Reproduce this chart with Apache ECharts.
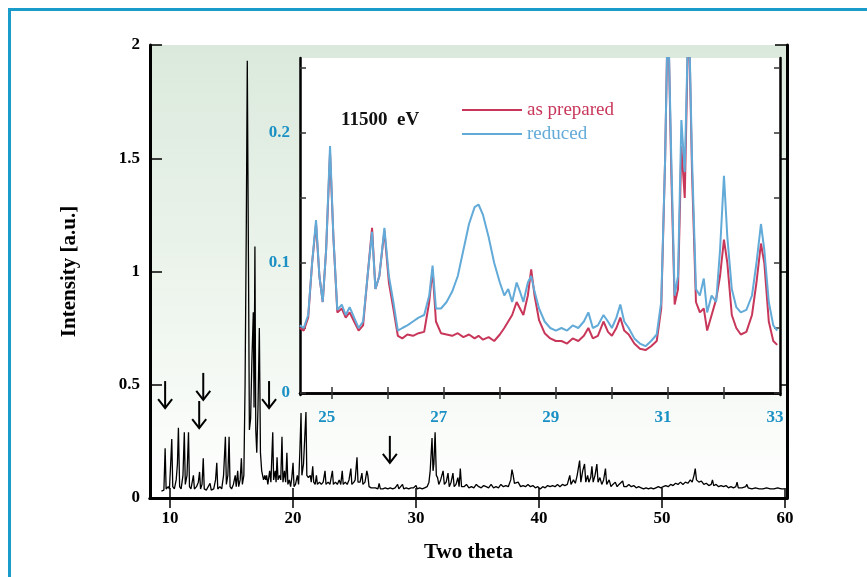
<!DOCTYPE html>
<html>
<head>
<meta charset="utf-8">
<script src="https://cdn.jsdelivr.net/npm/echarts@6/dist/echarts.min.js"></script>
<style>html,body{margin:0;padding:0;background:#fff}#chart{width:867px;height:577px}</style>
</head>
<body>
<div id="chart"></div>
<script>
// ---- Main XRD pattern: [two theta, intensity] ----
const mainPattern = [
[9.3,0.03],[9.5,0.035],[9.6,0.22],[9.68,0.04],[9.85,0.05],[9.95,0.04],[10.05,0.15],[10.14,0.26],[10.22,0.05],[10.35,0.04],
[10.5,0.08],[10.6,0.15],[10.68,0.31],[10.78,0.05],[10.9,0.04],[11.05,0.1],[11.16,0.29],[11.24,0.06],[11.38,0.1],[11.5,0.29],
[11.58,0.05],[11.7,0.04],[11.9,0.1],[11.98,0.04],[12.15,0.05],[12.3,0.07],[12.4,0.115],[12.48,0.04],[12.6,0.06],[12.7,0.175],
[12.78,0.04],[12.95,0.035],[13.1,0.04],[13.25,0.065],[13.35,0.035],[13.55,0.04],[13.7,0.08],[13.8,0.155],[13.88,0.04],[14.05,0.05],
[14.2,0.04],[14.35,0.1],[14.5,0.27],[14.58,0.06],[14.7,0.1],[14.8,0.27],[14.88,0.05],[15.0,0.04],[15.15,0.06],[15.3,0.1],
[15.38,0.05],[15.5,0.12],[15.58,0.05],[15.7,0.08],[15.8,0.175],[15.88,0.06],[16.0,0.1],[16.1,0.5],[16.2,1.2],[16.28,1.93],
[16.33,1.45],[16.38,1.0],[16.45,0.3],[16.55,0.35],[16.65,0.6],[16.77,0.82],[16.83,0.4],[16.9,1.11],[16.97,0.3],[17.05,0.2],
[17.15,0.4],[17.26,0.75],[17.35,0.2],[17.45,0.12],[17.6,0.08],[17.7,0.1],[17.78,0.08],[17.85,0.1],[17.95,0.06],[18.1,0.12],
[18.2,0.07],[18.35,0.29],[18.42,0.08],[18.55,0.12],[18.62,0.07],[18.7,0.18],[18.78,0.08],[18.9,0.1],[19.0,0.08],[19.1,0.27],
[19.18,0.07],[19.3,0.12],[19.4,0.07],[19.5,0.2],[19.58,0.06],[19.7,0.08],[19.8,0.05],[19.9,0.09],[20.0,0.155],[20.08,0.05],
[20.2,0.06],[20.35,0.1],[20.45,0.06],[20.55,0.2],[20.65,0.375],[20.72,0.1],[20.85,0.15],[21.05,0.38],[21.12,0.1],[21.25,0.09],
[21.4,0.1],[21.48,0.07],[21.6,0.14],[21.68,0.07],[21.8,0.06],[21.9,0.1],[21.98,0.06],[22.15,0.07],[22.3,0.06],[22.45,0.07],
[22.6,0.12],[22.68,0.06],[22.85,0.07],[23.0,0.06],[23.2,0.12],[23.28,0.06],[23.45,0.07],[23.6,0.06],[23.75,0.08],[23.88,0.06],
[24.0,0.12],[24.08,0.06],[24.25,0.07],[24.4,0.06],[24.55,0.08],[24.7,0.13],[24.78,0.06],[24.95,0.07],[25.05,0.08],[25.2,0.18],
[25.28,0.07],[25.45,0.07],[25.6,0.11],[25.68,0.06],[25.85,0.07],[26.0,0.12],[26.08,0.1],[26.18,0.05],[26.35,0.045],[26.5,0.04],
[26.7,0.045],[26.9,0.04],[27.0,0.065],[27.1,0.04],[27.3,0.04],[27.5,0.045],[27.7,0.04],[27.9,0.045],[28.1,0.04],[28.3,0.045],
[28.5,0.06],[28.6,0.04],[28.75,0.045],[28.9,0.06],[29.0,0.04],[29.2,0.045],[29.4,0.04],[29.6,0.045],[29.8,0.045],[30.0,0.055],
[30.1,0.04],[30.3,0.045],[30.5,0.04],[30.7,0.045],[30.9,0.05],[31.05,0.07],[31.15,0.12],[31.3,0.265],[31.38,0.12],[31.45,0.15],
[31.55,0.29],[31.65,0.1],[31.75,0.09],[31.85,0.06],[32.0,0.08],[32.2,0.12],[32.3,0.06],[32.45,0.07],[32.6,0.11],[32.7,0.05],
[32.85,0.07],[33.0,0.11],[33.1,0.05],[33.25,0.06],[33.4,0.09],[33.5,0.05],[33.6,0.13],[33.7,0.05],[33.9,0.05],[34.1,0.06],
[34.3,0.045],[34.5,0.05],[34.7,0.045],[34.9,0.06],[35.1,0.05],[35.3,0.045],[35.5,0.055],[35.7,0.05],[35.9,0.045],[36.1,0.06],
[36.3,0.045],[36.5,0.05],[36.7,0.045],[36.9,0.06],[37.1,0.05],[37.3,0.055],[37.5,0.05],[37.7,0.08],[37.8,0.125],[37.9,0.1],
[38.0,0.065],[38.15,0.06],[38.3,0.07],[38.5,0.05],[38.7,0.055],[38.9,0.05],[39.1,0.06],[39.3,0.05],[39.5,0.055],[39.7,0.045],
[39.9,0.05],[40.1,0.04],[40.3,0.05],[40.5,0.045],[40.7,0.055],[40.9,0.05],[41.1,0.055],[41.3,0.05],[41.5,0.06],[41.7,0.05],
[41.9,0.06],[42.1,0.055],[42.3,0.06],[42.5,0.1],[42.6,0.06],[42.8,0.08],[42.95,0.065],[43.1,0.1],[43.3,0.165],[43.4,0.07],
[43.55,0.12],[43.7,0.15],[43.8,0.07],[43.95,0.1],[44.05,0.07],[44.2,0.09],[44.3,0.14],[44.4,0.07],[44.55,0.1],[44.7,0.15],
[44.8,0.07],[44.95,0.09],[45.1,0.06],[45.25,0.08],[45.4,0.13],[45.5,0.06],[45.7,0.08],[45.85,0.05],[46.0,0.06],[46.2,0.07],
[46.35,0.05],[46.5,0.06],[46.8,0.075],[46.9,0.05],[47.1,0.05],[47.3,0.06],[47.5,0.05],[47.7,0.055],[47.9,0.045],[48.1,0.05],
[48.3,0.045],[48.5,0.04],[48.7,0.045],[48.9,0.04],[49.1,0.045],[49.3,0.04],[49.5,0.045],[49.7,0.05],[49.9,0.045],[50.1,0.05],
[50.3,0.055],[50.5,0.05],[50.7,0.06],[50.9,0.055],[51.1,0.065],[51.3,0.06],[51.5,0.07],[51.7,0.06],[51.9,0.07],[52.1,0.065],
[52.3,0.08],[52.45,0.07],[52.6,0.1],[52.7,0.13],[52.8,0.08],[53.0,0.07],[53.2,0.075],[53.4,0.06],[53.6,0.065],[53.8,0.055],
[54.0,0.06],[54.1,0.08],[54.2,0.055],[54.4,0.06],[54.6,0.05],[54.8,0.055],[55.0,0.05],[55.2,0.055],[55.4,0.045],[55.6,0.05],
[55.8,0.045],[56.0,0.05],[56.1,0.07],[56.2,0.045],[56.5,0.045],[56.8,0.05],[56.9,0.06],[57.0,0.045],[57.3,0.04],[57.6,0.045],
[57.9,0.04],[58.2,0.04],[58.5,0.045],[58.8,0.04],[59.1,0.04],[59.4,0.045],[59.7,0.04],[59.95,0.04]
];

// ---- Inset (11500 eV) ----
const insetTwoTheta = [24.43,24.5,24.58,24.65,24.72,24.78,24.84,24.9,24.97,25.03,25.1,25.18,25.25,25.32,25.4,25.48,25.56,25.64,25.72,25.78,
25.85,25.94,26.02,26.1,26.18,26.26,26.35,26.45,26.55,26.65,26.74,26.8,26.86,26.95,27.05,27.15,27.25,27.35,27.45,27.55,
27.62,27.7,27.8,27.9,28.0,28.08,28.15,28.22,28.3,28.36,28.42,28.5,28.56,28.62,28.7,28.8,28.9,29.0,29.1,29.2,
29.3,29.4,29.5,29.58,29.66,29.75,29.85,29.93,30.0,30.08,30.15,30.22,30.3,30.4,30.5,30.6,30.7,30.8,30.88,30.95,
31.0,31.06,31.12,31.18,31.24,31.3,31.37,31.43,31.5,31.57,31.64,31.7,31.78,31.86,31.93,32.0,32.06,32.14,32.22,32.3,
32.4,32.5,32.58,32.66,32.72,32.8,32.88,32.95];
const reduced = [0.052,0.05,0.06,0.1,0.133,0.09,0.07,0.11,0.19,0.12,0.064,0.068,0.06,0.066,0.058,0.05,0.055,0.09,0.124,0.08,
0.09,0.127,0.09,0.07,0.048,0.05,0.052,0.055,0.058,0.06,0.075,0.098,0.065,0.065,0.07,0.078,0.09,0.11,0.13,0.143,
0.145,0.137,0.12,0.1,0.085,0.075,0.08,0.07,0.085,0.078,0.07,0.085,0.09,0.078,0.065,0.055,0.05,0.048,0.05,0.048,
0.052,0.05,0.055,0.062,0.05,0.052,0.06,0.055,0.05,0.058,0.068,0.055,0.05,0.042,0.038,0.036,0.04,0.045,0.07,0.18,
0.3,0.18,0.075,0.09,0.21,0.17,0.3,0.18,0.08,0.075,0.088,0.062,0.075,0.07,0.11,0.167,0.12,0.08,0.066,0.062,
0.064,0.075,0.1,0.13,0.11,0.07,0.052,0.048];
const asPrepared = [0.05,0.048,0.058,0.1,0.13,0.09,0.07,0.11,0.185,0.12,0.062,0.065,0.058,0.062,0.055,0.048,0.052,0.09,0.127,0.08,
0.09,0.125,0.085,0.065,0.044,0.042,0.045,0.044,0.046,0.047,0.07,0.095,0.055,0.046,0.045,0.044,0.046,0.043,0.045,0.042,
0.044,0.041,0.043,0.04,0.045,0.05,0.055,0.06,0.07,0.065,0.06,0.075,0.095,0.075,0.056,0.046,0.042,0.04,0.04,0.038,
0.042,0.04,0.044,0.05,0.042,0.044,0.055,0.047,0.044,0.05,0.058,0.048,0.045,0.038,0.034,0.033,0.036,0.04,0.065,0.18,
0.3,0.17,0.068,0.08,0.19,0.15,0.3,0.17,0.07,0.062,0.065,0.048,0.06,0.072,0.09,0.118,0.1,0.06,0.05,0.045,
0.047,0.06,0.085,0.115,0.1,0.055,0.04,0.037];

// ---- Axis ticks / labels ----
const mainXTicks = [10, 20, 30, 40, 50, 60];
const insetXTicks = [25, 26, 27, 28, 29, 30, 31, 32];
const insetXLabels = [25, 27, 29, 31, 33];
const insetYTicks = [0, 0.05, 0.1, 0.15, 0.2, 0.25];
const insetYLabels = [0, 0.1, 0.2];

// ---- Arrows marking reflections: [two theta, arrow tip intensity] ----
const arrowMarks = [[9.6, 0.397], [12.7, 0.433], [12.37, 0.309], [18.05, 0.397], [27.87, 0.155]];

const SERIF = '"Liberation Serif", "DejaVu Serif", serif';
const BLUE_TXT = '#1a90c4';
const RED = '#c8375a';
const BLUE = '#62aad8';

const chart = echarts.init(document.getElementById('chart'), null, {renderer: 'canvas'});
const boldLbl = {fontFamily: SERIF, fontWeight: 'bold', fontSize: 17, color: '#000'};

const option = {
  animation: false,
  backgroundColor: '#fff',
  title: {
    text: '11500  eV', left: 336, top: 106,
    textStyle: {fontFamily: SERIF, fontWeight: 'bold', fontSize: 19, color: '#111'}
  },
  legend: {
    orient: 'vertical', left: 462, top: 100, padding: 0, itemGap: 4,
    icon: 'rect', itemWidth: 60, itemHeight: 2,
    textStyle: {fontFamily: SERIF, fontSize: 19, lineHeight: 20},
    data: [
      {name: 'as prepared', textStyle: {color: RED}},
      {name: 'reduced', textStyle: {color: BLUE}}
    ]
  },
  graphic: [{
    type: 'rect', z: 100,
    shape: {x: 9.5, y: 9.5, width: 900, height: 620},
    style: {fill: 'none', stroke: '#1a9ccb', lineWidth: 3}
  }],
  grid: [
    {left: 150, top: 45, width: 637, height: 453, show: true, borderWidth: 0,
     backgroundColor: {type: 'linear', x: 0, y: 0, x2: 0, y2: 1,
       colorStops: [{offset: 0, color: '#dbe9dc'}, {offset: 0.6, color: '#eff6ef'}, {offset: 1, color: '#ffffff'}]}},
    {left: 300, top: 58, width: 480, height: 337, show: true, borderWidth: 0, backgroundColor: '#ffffff', z: 3}
  ],
  xAxis: [
    {gridIndex: 0, type: 'value', min: 8.37, max: 60.16,
     name: 'Two theta', nameLocation: 'middle', nameGap: 44,
     nameTextStyle: {fontFamily: SERIF, fontWeight: 'bold', fontSize: 21, color: '#000'},
     axisLine: {lineStyle: {color: '#000', width: 3}},
     axisTick: {inside: true, length: 10, customValues: mainXTicks, lineStyle: {color: '#000', width: 1.5}},
     axisLabel: Object.assign({customValues: mainXTicks, margin: 12}, boldLbl),
     splitLine: {show: false}},
    {gridIndex: 0, type: 'value', position: 'top', min: 8.37, max: 60.16,
     axisLine: {lineStyle: {color: '#000', width: 3}},
     axisTick: {inside: true, length: 10, customValues: mainXTicks, lineStyle: {color: '#000', width: 1.5}},
     axisLabel: {show: false}, splitLine: {show: false}},
    {gridIndex: 1, type: 'value', min: 24.434, max: 33, z: 6,
     axisLine: {lineStyle: {color: '#000', width: 2.5}},
     axisTick: {inside: true, length: 6, customValues: insetXTicks, lineStyle: {color: '#333', width: 1.5}},
     axisLabel: {customValues: insetXLabels, margin: 14, padding: [0, 10, 0, 0],
       fontFamily: SERIF, fontWeight: 'bold', fontSize: 17, color: BLUE_TXT},
     splitLine: {show: false}},
    {gridIndex: 1, type: 'value', position: 'top', min: 24.434, max: 33, z: 6,
     axisLine: {lineStyle: {color: '#000', width: 2.5}},
     axisTick: {inside: true, length: 6, customValues: insetXTicks, lineStyle: {color: '#333', width: 1.5}},
     axisLabel: {show: false}, splitLine: {show: false}}
  ],
  yAxis: [
    {gridIndex: 0, type: 'value', min: 0, max: 2, interval: 0.5,
     name: 'Intensity [a.u.]', nameLocation: 'middle', nameGap: 70, nameRotate: 90,
     nameTextStyle: {fontFamily: SERIF, fontWeight: 'bold', fontSize: 21, color: '#000'},
     axisLine: {lineStyle: {color: '#000', width: 3}},
     axisTick: {inside: true, length: 12, lineStyle: {color: '#000', width: 1.5}},
     axisLabel: Object.assign({margin: 10}, boldLbl),
     splitLine: {show: false}},
    {gridIndex: 0, type: 'value', position: 'right', min: 0, max: 2, interval: 0.5,
     axisLine: {lineStyle: {color: '#000', width: 3}},
     axisTick: {inside: true, length: 12, lineStyle: {color: '#000', width: 1.5}},
     axisLabel: {show: false}, splitLine: {show: false}},
    {gridIndex: 1, type: 'value', min: -0.00154, max: 0.25769, z: 6,
     axisLine: {lineStyle: {color: '#000', width: 2.5}},
     axisTick: {inside: true, length: 6, customValues: insetYTicks, lineStyle: {color: '#333', width: 1.5}},
     axisLabel: {customValues: insetYLabels, margin: 10, formatter: v => String(+v.toFixed(2)),
       fontFamily: SERIF, fontWeight: 'bold', fontSize: 17, color: BLUE_TXT},
     splitLine: {show: false}},
    {gridIndex: 1, type: 'value', position: 'right', min: -0.00154, max: 0.25769, z: 6,
     axisLine: {lineStyle: {color: '#000', width: 2.5}},
     axisTick: {inside: true, length: 6, customValues: insetYTicks, lineStyle: {color: '#333', width: 1.5}},
     axisLabel: {show: false}, splitLine: {show: false}}
  ],
  series: [
    {name: 'pattern', type: 'line', xAxisIndex: 0, yAxisIndex: 0, showSymbol: false, z: 2,
     lineStyle: {color: '#000', width: 1.3}, data: mainPattern},
    {name: 'arrows', type: 'custom', xAxisIndex: 0, yAxisIndex: 0, z: 2, data: arrowMarks,
     renderItem: function (params, api) {
       const p = api.coord([api.value(0), api.value(1)]);
       return {type: 'group', children: [
         {type: 'line', shape: {x1: p[0], y1: p[1] - 27, x2: p[0], y2: p[1]}, style: {stroke: '#000', lineWidth: 2}},
         {type: 'polyline', shape: {points: [[p[0] - 7, p[1] - 9], [p[0], p[1]], [p[0] + 7, p[1] - 9]]},
          style: {stroke: '#000', fill: 'none', lineWidth: 2}}
       ]};
     }},
    {name: 'as prepared', type: 'line', xAxisIndex: 2, yAxisIndex: 2, showSymbol: false, z: 7,
     color: RED, lineStyle: {color: RED, width: 2},
     data: insetTwoTheta.map((x, i) => [x, asPrepared[i]])},
    {name: 'reduced', type: 'line', xAxisIndex: 2, yAxisIndex: 2, showSymbol: false, z: 8,
     color: BLUE, lineStyle: {color: BLUE, width: 2},
     data: insetTwoTheta.map((x, i) => [x, reduced[i]])}
  ]
};
chart.setOption(option);
</script>
</body>
</html>
